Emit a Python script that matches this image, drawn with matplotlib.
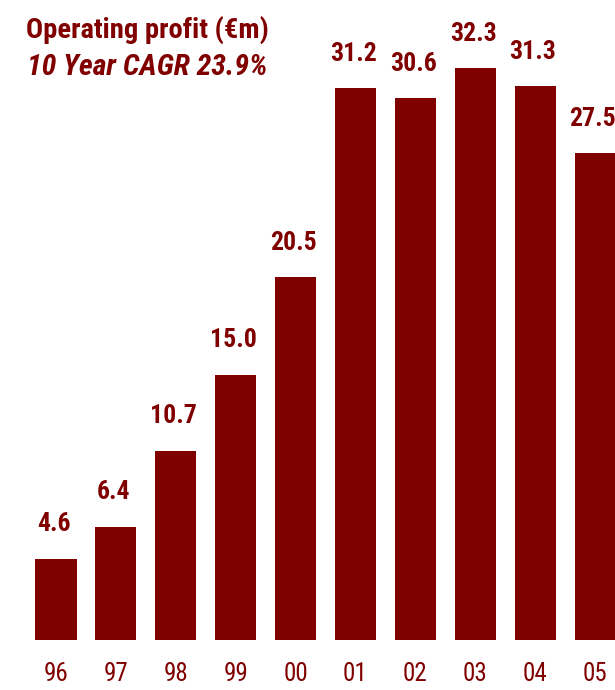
import matplotlib
matplotlib.use("Agg")
import matplotlib.pyplot as plt
from matplotlib import font_manager

years = ["96", "97", "98", "99", "00", "01", "02", "03", "04", "05"]
profit = [4.6, 6.4, 10.7, 15.0, 20.5, 31.2, 30.6, 32.3, 31.3, 27.5]
title = "Operating profit (€m)"
subtitle = "10 Year CAGR 23.9%"

names = {f.name for f in font_manager.fontManager.ttflist}
family = ["Roboto Condensed", "Liberation Sans", "DejaVu Sans"]
family = [f for f in family if f in names] or ["DejaVu Sans"]
plt.rcParams["font.family"] = family

red = "#800000"
W, H = 615, 690
fig = plt.figure(figsize=(W / 100, H / 100), dpi=100)
base = 50
ax = fig.add_axes([0, base / H, 1, (H - base) / H])

pitch = 59.9
x0 = 56.0
ax.set_xlim(-x0 / pitch, (W - x0) / pitch)
ax.set_ylim(0, (H - base) / 17.7)

xs = list(range(len(years)))
ax.bar(xs, profit, width=0.685, color=red, edgecolor="none")
for x, v in zip(xs, profit):
    ax.annotate(f"{v:.1f}", (x, v), xytext=(-1.6, 16), textcoords="offset points",
                ha="center", va="bottom", fontsize=18.5, fontweight="bold", color=red)

ax.set_xticks(xs)
ax.set_xticklabels(years, fontsize=18, color=red)
ax.tick_params(axis="x", length=0, pad=16)
ax.set_yticks([])
for s in ax.spines.values():
    s.set_visible(False)

fig.text(26 / W, 1 - 30 / H, title, fontsize=20.5, fontweight="bold", color=red,
         ha="left", va="center")
fig.text(27 / W, 1 - 67 / H, subtitle, fontsize=21.5, fontweight="bold",
         fontstyle="italic", color=red, ha="left", va="center")

fig.savefig("out.png", dpi=100)
